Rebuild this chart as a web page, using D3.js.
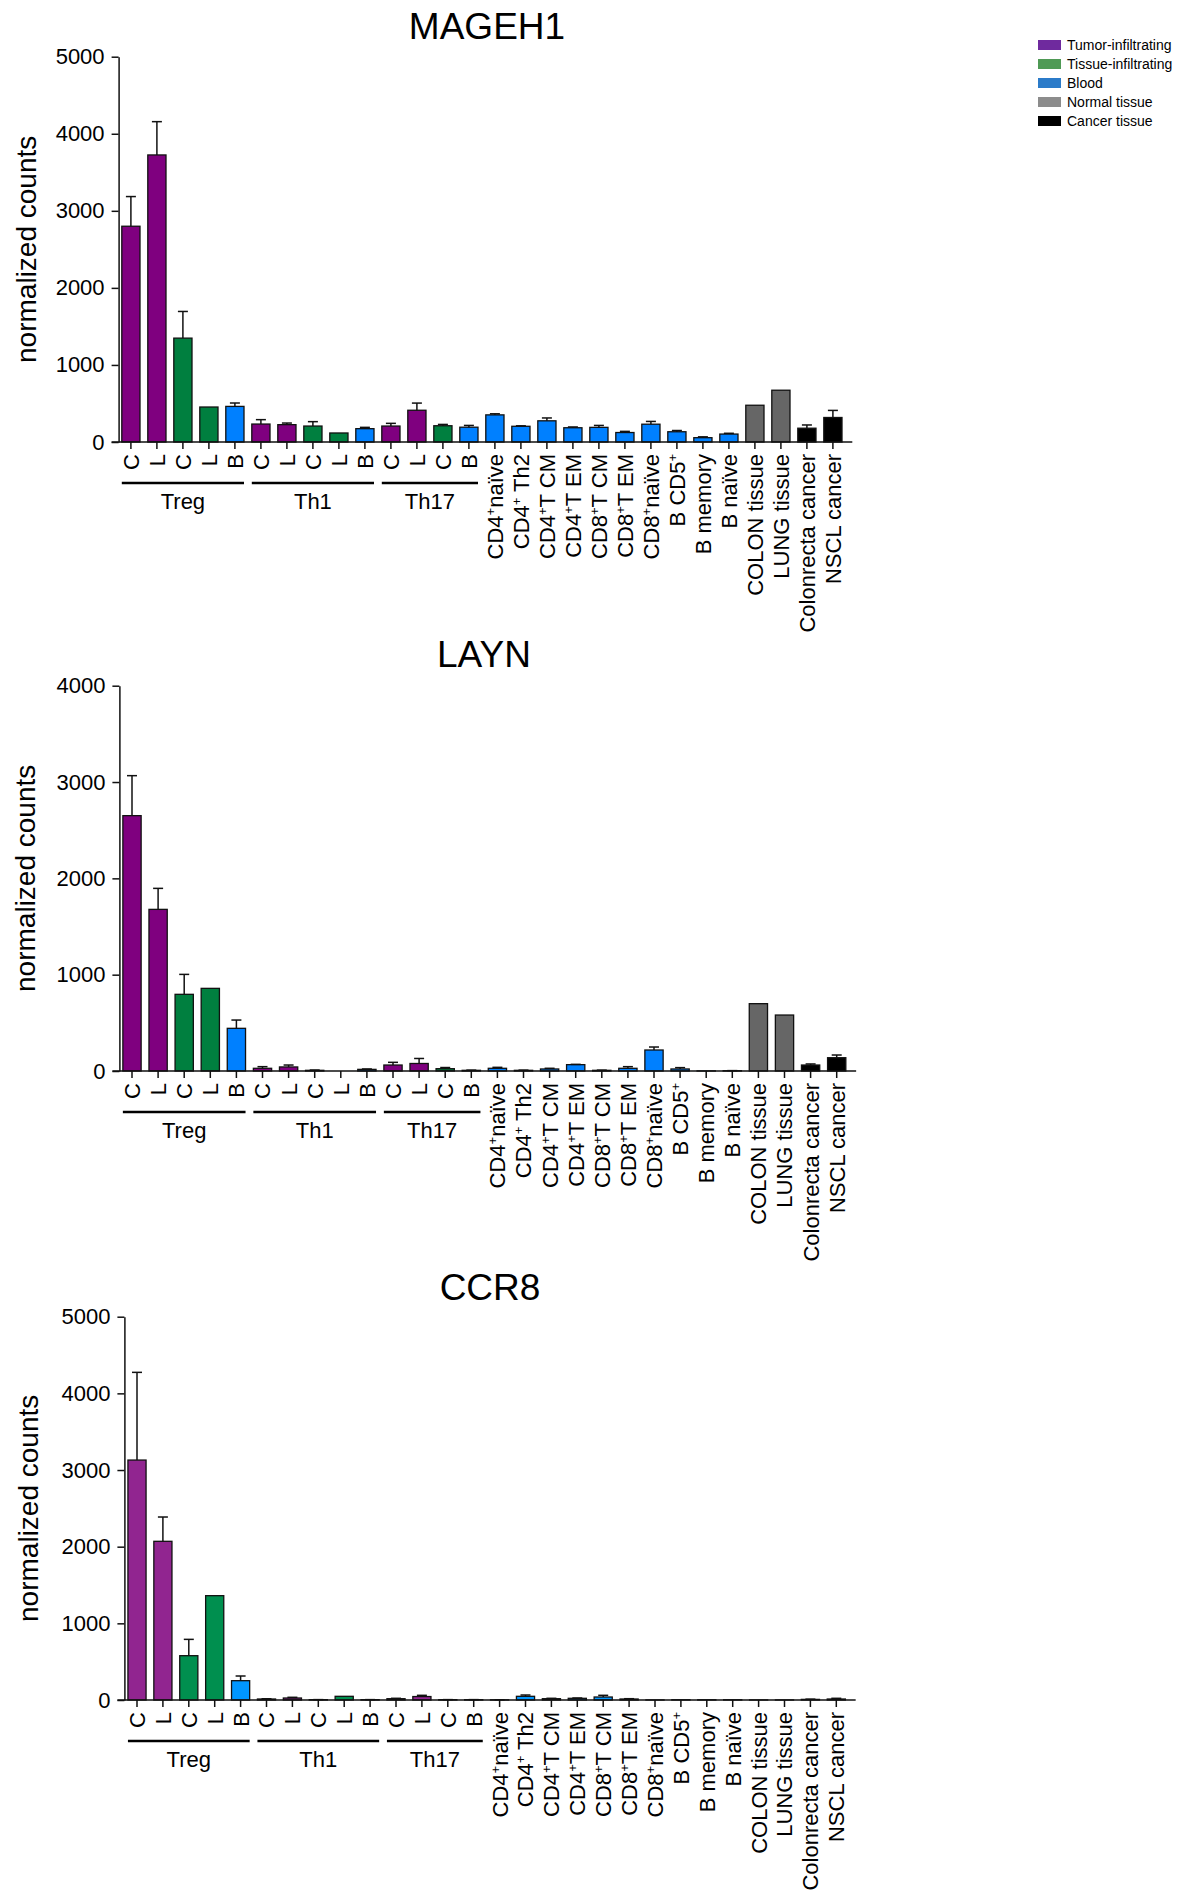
<!DOCTYPE html>
<html>
<head>
<meta charset="utf-8">
<script src="https://cdn.jsdelivr.net/npm/d3@7/dist/d3.min.js"></script>
<style>
  body { margin: 0; background: #fff; }
  svg text { font-family: 'Liberation Sans', Arial, Helvetica, sans-serif; fill: #000; }
</style>
</head>
<body>
<div id="chart"></div>
<script>
var width = 1182, height = 1893;

// x categories ('+' is written as a superscript)
var categories = ['C', 'L', 'C', 'L', 'B', 'C', 'L', 'C', 'L', 'B', 'C', 'L', 'C', 'B',
  'CD4+naïve', 'CD4+ Th2', 'CD4+T CM', 'CD4+T EM', 'CD8+T CM', 'CD8+T EM', 'CD8+naïve',
  'B CD5+', 'B memory', 'B naïve', 'COLON tissue', 'LUNG tissue', 'Colonrecta cancer', 'NSCL cancer'];
var sources = ['tumor', 'tumor', 'tissue', 'tissue', 'blood',
  'tumor', 'tumor', 'tissue', 'tissue', 'blood',
  'tumor', 'tumor', 'tissue', 'blood',
  'blood', 'blood', 'blood', 'blood', 'blood', 'blood', 'blood', 'blood', 'blood', 'blood',
  'normal', 'normal', 'cancer', 'cancer'];
var groupNames = ['Treg', 'Th1', 'Th17'];
var groupFirst = [0, 5, 10];
var groupLast = [4, 9, 13];

var legendKeys = ['tumor', 'tissue', 'blood', 'normal', 'cancer'];
var legendLabels = ['Tumor-infiltrating', 'Tissue-infiltrating', 'Blood', 'Normal tissue', 'Cancer tissue'];

// gene values (mean) and upward error (sem)
var mageh1Values = [2800, 3725, 1348, 454, 462, 233, 225, 207, 117, 173, 207, 412, 211, 192,
  352, 204, 275, 185, 190, 123, 231, 133, 56, 103, 477, 672, 179, 318];
var mageh1Sem = [385, 432, 346, 0, 44, 57, 21, 57, 0, 17, 35, 93, 17, 23,
  14, 6, 37, 10, 25, 15, 36, 16, 11, 10, 0, 0, 42, 92];

var laynValues = [2651, 1678, 796, 858, 443, 28, 42, 7, 0, 17, 62, 78, 24, 7,
  28, 7, 21, 66, 7, 28, 218, 21, 1, 3, 699, 581, 62, 138];
var laynSem = [415, 218, 207, 0, 86, 17, 20, 3, 0, 4, 28, 52, 12, 2,
  10, 2, 7, 3, 2, 17, 31, 14, 0, 1, 0, 0, 11, 28];

var ccr8Values = [3130, 2070, 578, 1361, 252, 13, 26, 4, 48, 4, 17, 45, 4, 4,
  2, 48, 17, 22, 39, 13, 1, 3, 3, 3, 1, 1, 8, 13];
var ccr8Sem = [1144, 317, 213, 0, 61, 3, 9, 1, 0, 1, 5, 16, 1, 1,
  1, 17, 5, 4, 22, 4, 0, 0, 0, 0, 0, 0, 3, 9];

var colorsA = { tumor: '#7f007f', tissue: '#007f3f', blood: '#0080ff', normal: '#666666', cancer: '#000000' };
var colorsB = { tumor: '#912590', tissue: '#008f4f', blood: '#0096ff', normal: '#666666', cancer: '#000000' };
var legendColors = { tumor: '#6f2a9e', tissue: '#4f9a55', blood: '#2b7bc9', normal: '#8c8c8c', cancer: '#000000' };

var panels = [
  { title: 'MAGEH1', values: mageh1Values, sem: mageh1Sem, yMax: 5000, colors: colorsA,
    top: 56.7, zero: 442, axisX: 118.6, first: 130.9, step: 26.0, titleX: 487, titleY: 38.5, labelX: 36 },
  { title: 'LAYN', values: laynValues, sem: laynSem, yMax: 4000, colors: colorsA,
    top: 685.7, zero: 1071, axisX: 119.4, first: 132, step: 26.1, titleX: 484, titleY: 666.5, labelX: 34.5 },
  { title: 'CCR8', values: ccr8Values, sem: ccr8Sem, yMax: 5000, colors: colorsB,
    top: 1316.7, zero: 1700, axisX: 124.4, first: 137, step: 25.9, titleX: 490, titleY: 1300, labelX: 38 }
];

var svg = d3.select('#chart')
  .append('svg')
  .attr('width', width)
  .attr('height', height);

svg.append('rect').attr('width', width).attr('height', height).attr('fill', '#fff');

function writeLabel(text, label) {
  var parts = label.split('+');
  parts.forEach(function (p, i) {
    if (i > 0) {
      text.append('tspan').attr('font-size', 13).attr('dy', -8).text('+');
      text.append('tspan').attr('dy', 8).text(p);
    } else if (p.length) {
      text.append('tspan').text(p);
    }
  });
}

panels.forEach(function (p) {
  var x0 = p.first - 0.4 * p.step;
  var xScale = d3.scaleBand()
    .domain(d3.range(categories.length))
    .range([x0, x0 + 27.8 * p.step])
    .paddingInner(0.3)
    .paddingOuter(0.05);

  var yScale = d3.scaleLinear()
    .domain([0, p.yMax])
    .range([p.zero, p.top]);

  var g = svg.append('g');

  // title
  g.append('text')
    .attr('x', p.titleX)
    .attr('y', p.titleY)
    .attr('text-anchor', 'middle')
    .attr('font-size', 37)
    .text(p.title);

  // y label
  g.append('text')
    .attr('transform', 'translate(' + p.labelX + ',' + ((p.top + p.zero) / 2) + ') rotate(-90)')
    .attr('text-anchor', 'middle')
    .attr('font-size', 28)
    .text('normalized counts');

  // bars
  g.selectAll('.bar')
    .data(p.values)
    .enter()
    .append('rect')
    .attr('x', function (d, i) { return xScale(i); })
    .attr('y', function (d) { return yScale(d); })
    .attr('width', xScale.bandwidth())
    .attr('height', function (d) { return p.zero - yScale(d); })
    .attr('fill', function (d, i) { return p.colors[sources[i]]; })
    .attr('stroke', '#111')
    .attr('stroke-width', 1.3);

  // error bars
  var errs = g.selectAll('.err')
    .data(p.values.map(function (v, i) { return { i: i, v: v, s: p.sem[i] }; })
      .filter(function (d) { return d.s > 0; }))
    .enter()
    .append('g')
    .attr('stroke', '#111')
    .attr('stroke-width', 1.5);

  errs.append('line')
    .attr('x1', function (d) { return xScale(d.i) + xScale.bandwidth() / 2; })
    .attr('x2', function (d) { return xScale(d.i) + xScale.bandwidth() / 2; })
    .attr('y1', function (d) { return yScale(d.v); })
    .attr('y2', function (d) { return yScale(d.v + d.s); });

  errs.append('line')
    .attr('x1', function (d) { return xScale(d.i) + xScale.bandwidth() / 2 - 5; })
    .attr('x2', function (d) { return xScale(d.i) + xScale.bandwidth() / 2 + 5; })
    .attr('y1', function (d) { return yScale(d.v + d.s); })
    .attr('y2', function (d) { return yScale(d.v + d.s); });

  // y axis
  var yAxis = d3.axisLeft(yScale)
    .tickValues(d3.range(0, p.yMax + 1, 1000))
    .tickSize(7)
    .tickSizeOuter(0)
    .tickPadding(7)
    .tickFormat(d3.format('d'));

  var yAxisG = g.append('g')
    .attr('transform', 'translate(' + p.axisX + ',0)')
    .call(yAxis);
  yAxisG.selectAll('text')
    .attr('font-size', 22)
    .attr('font-family', "'Liberation Sans', Arial, sans-serif");
  yAxisG.selectAll('line, path').attr('stroke', '#111').attr('stroke-width', 1.5);

  // x axis ticks
  var xAxis = d3.axisBottom(xScale)
    .tickSize(7)
    .tickSizeOuter(0)
    .tickFormat('');
  var xAxisG = g.append('g')
    .attr('transform', 'translate(0,' + p.zero + ')')
    .call(xAxis);
  xAxisG.select('.domain').remove();
  xAxisG.selectAll('line').attr('stroke', '#111').attr('stroke-width', 1.5);

  g.append('line')
    .attr('x1', p.axisX - 7)
    .attr('x2', xScale.range()[1] + 9)
    .attr('y1', p.zero)
    .attr('y2', p.zero)
    .attr('stroke', '#111')
    .attr('stroke-width', 1.5);

  // category labels
  categories.forEach(function (c, i) {
    var t = g.append('text')
      .attr('transform', 'translate(' + (xScale(i) + xScale.bandwidth() / 2) + ',' + p.zero + ') rotate(-90)')
      .attr('x', -12)
      .attr('dy', '0.36em')
      .attr('text-anchor', 'end')
      .attr('font-size', 22);
    writeLabel(t, c);
  });

  // group underlines
  groupNames.forEach(function (name, k) {
    var a = xScale(groupFirst[k]);
    var b = xScale(groupLast[k]) + xScale.bandwidth();
    g.append('line')
      .attr('x1', a).attr('x2', b)
      .attr('y1', p.zero + 41).attr('y2', p.zero + 41)
      .attr('stroke', '#000')
      .attr('stroke-width', 2.5);
    g.append('text')
      .attr('x', (a + b) / 2)
      .attr('y', p.zero + 67)
      .attr('text-anchor', 'middle')
      .attr('font-size', 22)
      .text(name);
  });
});

// legend
var legend = svg.append('g').attr('transform', 'translate(1038,45)');
var rows = legend.selectAll('.row')
  .data(legendKeys)
  .enter()
  .append('g')
  .attr('transform', function (d, i) { return 'translate(0,' + (i * 19) + ')'; });
rows.append('rect')
  .attr('x', 0).attr('y', -5)
  .attr('width', 23).attr('height', 10)
  .attr('fill', function (d) { return legendColors[d]; });
rows.append('text')
  .attr('x', 29).attr('y', 5)
  .attr('font-size', 14)
  .text(function (d, i) { return legendLabels[i]; });
</script>
</body>
</html>
